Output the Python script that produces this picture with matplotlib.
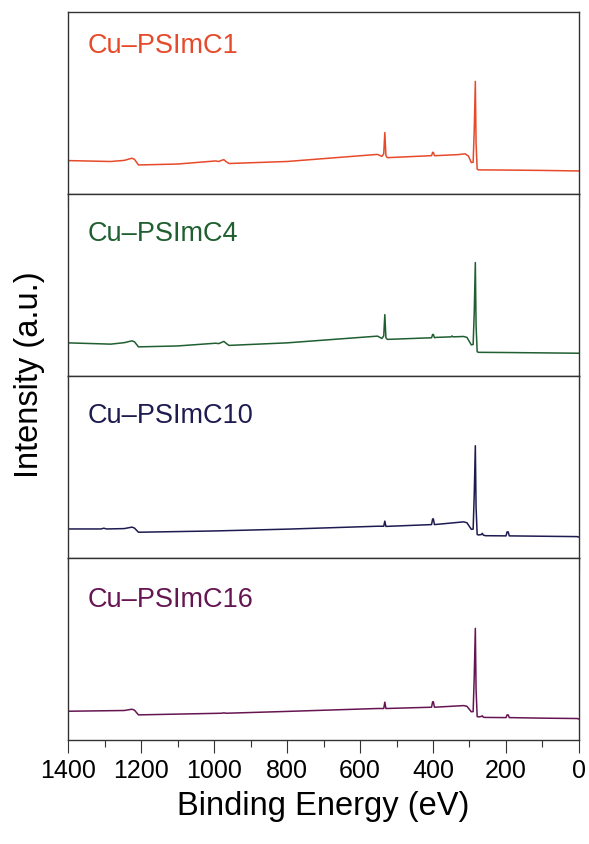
import matplotlib
matplotlib.use("Agg")
import matplotlib.pyplot as plt
from matplotlib.ticker import MultipleLocator

plt.rcParams['font.family'] = ['Liberation Sans', 'DejaVu Sans']

# XPS survey spectra, binding energy (eV) vs intensity (a.u.)
samples = ['Cu\u2013PSImC1', 'Cu\u2013PSImC4', 'Cu\u2013PSImC10', 'Cu\u2013PSImC16']
colors = ['#E64A2A', '#1F5F30', '#1E1B50', '#661552']

be_c1 = [1400, 1283, 1246, 1225, 1218, 1207, 1100, 996, 987, 980, 973, 966, 959, 800,
         552, 540, 535, 532, 529, 525, 404, 401, 399, 396, 392, 330, 312, 303,
         295, 290, 287, 284, 282, 279, 276, 200, 100, 0]
int_c1 = [18.3, 17.8, 18.4, 19.6, 19.0, 15.9, 16.4, 18.1, 17.8, 18.4, 18.8, 17.6, 16.7, 17.8,
          21.7, 20.6, 22.0, 33.7, 21.0, 19.9, 21.0, 22.8, 22.8, 21.0, 21.0, 21.6, 22.0, 20.8,
          17.2, 17.4, 35.0, 61.8, 28.0, 13.6, 13.2, 13.1, 12.9, 12.6]

be_c4 = [1400, 1283, 1246, 1225, 1218, 1207, 1100, 996, 987, 980, 973, 966, 959, 800,
         552, 540, 535, 532, 529, 525, 404, 401, 399, 396, 392, 350, 348, 345, 316, 307,
         295, 290, 287, 284, 282, 279, 276, 200, 100, 0]
int_c4 = [18.2, 17.5, 18.3, 19.3, 18.8, 16.0, 16.5, 18.0, 17.8, 18.4, 19.0, 17.8, 16.8, 18.2,
          21.9, 20.6, 22.0, 33.7, 21.0, 20.1, 21.0, 22.8, 22.8, 21.0, 21.2, 21.5, 22.0, 21.5, 21.7, 21.2,
          17.1, 17.3, 35.0, 62.3, 28.0, 13.4, 13.0, 12.9, 12.7, 12.5]

be_c10 = [1400, 1310, 1302, 1294, 1246, 1225, 1218, 1207, 1000, 800,
          552, 535, 532, 529, 404, 401, 399, 396, 316, 307,
          295, 290, 287, 284, 282, 279, 276, 268, 265, 262, 256,
          200, 197, 194, 191, 100, 5, 0]
int_c10 = [16.0, 16.0, 16.4, 16.0, 16.2, 17.0, 16.5, 14.2, 14.9, 15.9,
           17.5, 17.5, 20.3, 17.4, 18.4, 21.5, 21.5, 18.4, 19.9, 19.4,
           15.8, 15.9, 35.0, 61.7, 28.0, 13.0, 12.7, 12.9, 13.6, 12.6, 12.3,
           12.2, 14.4, 14.4, 12.2, 12.0, 11.8, 11.5]

be_c16 = [1400, 1246, 1225, 1218, 1207, 980, 973, 966, 800,
          552, 535, 532, 529, 404, 401, 399, 396, 316, 307,
          295, 290, 287, 284, 282, 279, 276, 268, 265, 262, 256,
          200, 197, 194, 191, 100, 5, 0]
int_c16 = [15.9, 16.3, 17.0, 16.5, 13.9, 14.8, 15.0, 14.8, 15.8,
           17.4, 17.4, 20.9, 17.4, 18.1, 21.1, 21.1, 18.1, 19.0, 18.6,
           15.6, 15.7, 35.0, 61.4, 28.0, 13.0, 12.8, 13.0, 13.4, 12.6, 12.5,
           12.4, 13.9, 13.9, 12.4, 12.1, 11.9, 11.6]

energies = [be_c1, be_c4, be_c10, be_c16]
intensities = [int_c1, int_c4, int_c10, int_c16]
label_y = [0.81, 0.78, 0.78, 0.77]

fig, axes = plt.subplots(4, 1, sharex=True, figsize=(5.89, 8.44), dpi=100)
fig.subplots_adjust(left=0.1155, right=0.983, top=0.986, bottom=0.123, hspace=0)

for ax, name, col, be, inten, ly in zip(axes, samples, colors, energies, intensities, label_y):
    ax.plot(be, inten, color=col, lw=1.1)
    ax.set_ylim(0, 100)
    ax.set_yticks([])
    ax.text(0.039, ly, name, transform=ax.transAxes, color=col,
            fontsize=19.5, va='center', ha='left')
    for sp in ax.spines.values():
        sp.set_color('#333333')
        sp.set_linewidth(1.0)
    ax.xaxis.set_major_locator(MultipleLocator(200))
    ax.xaxis.set_minor_locator(MultipleLocator(100))
    ax.tick_params(axis='x', which='major', direction='out', length=9.5, width=0.8,
                   color='#333333', labelsize=18, pad=4)
    ax.tick_params(axis='x', which='minor', direction='out', length=4.8, width=0.8,
                   color='#333333')

axes[0].set_xlim(1400, 0)
axes[-1].set_xlabel('Binding Energy (eV)', fontsize=23.5, labelpad=6)
fig.text(0.05, 0.556, 'Intensity (a.u.)', rotation=90, fontsize=23.5,
         va='center', ha='center')

fig.savefig('out.png', dpi=100)
